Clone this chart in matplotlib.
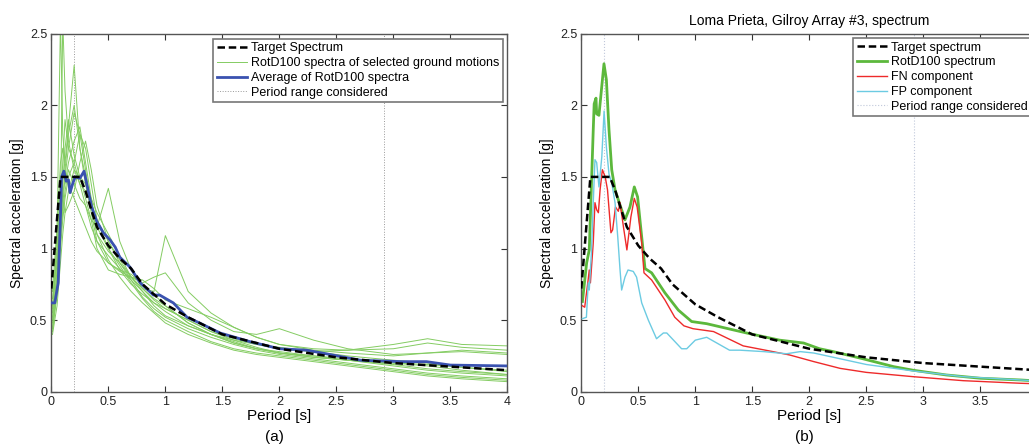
import numpy as np
import matplotlib.pyplot as plt

plt.rcParams['font.family'] = ['Liberation Sans', 'DejaVu Sans']

# target spectrum (same in both panels)
t_target = [0.0, 0.08, 0.25, 0.30, 0.35, 0.40, 0.50, 0.60, 0.70, 0.80, 1.0, 1.2, 1.5, 2.0, 2.5, 3.0, 3.5, 4.0]
sa_target = [0.72, 1.50, 1.50, 1.40, 1.27, 1.15, 1.02, 0.93, 0.86, 0.75, 0.61, 0.52, 0.40, 0.30, 0.24, 0.20, 0.175, 0.15]

# (a) RotD100 spectra of the selected ground motions
t_rec = [0.01, 0.05, 0.08, 0.10, 0.12, 0.15, 0.20, 0.25, 0.30, 0.35, 0.40, 0.50, 0.60, 0.70,
         0.80, 0.90, 1.00, 1.20, 1.40, 1.60, 1.80, 2.00, 2.30, 2.60, 3.00, 3.30, 3.60, 4.00]
rec01 = [0.42, 0.70, 1.20, 2.60, 2.10, 1.75, 1.55, 1.45, 1.30, 1.15, 1.05, 0.95, 0.86, 0.78, 0.70, 0.62, 0.56, 0.46, 0.40, 0.36, 0.33, 0.30, 0.28, 0.29, 0.33, 0.37, 0.33, 0.32]
rec02 = [0.55, 1.10, 2.60, 1.80, 1.60, 1.85, 2.28, 1.70, 1.50, 1.30, 1.10, 0.98, 0.90, 0.80, 0.72, 0.64, 0.58, 0.50, 0.42, 0.37, 0.33, 0.31, 0.28, 0.25, 0.22, 0.20, 0.17, 0.14]
rec03 = [0.48, 0.75, 1.05, 1.30, 1.50, 1.70, 1.95, 1.80, 1.70, 1.45, 1.20, 1.00, 0.85, 0.75, 0.68, 0.62, 0.58, 0.50, 0.42, 0.36, 0.31, 0.27, 0.24, 0.22, 0.18, 0.15, 0.13, 0.11]
rec04 = [0.60, 0.95, 1.40, 1.55, 1.45, 1.60, 1.75, 1.85, 1.60, 1.35, 1.15, 1.42, 1.05, 0.85, 0.72, 0.65, 0.60, 0.48, 0.40, 0.34, 0.30, 0.27, 0.25, 0.23, 0.20, 0.18, 0.15, 0.12]
rec05 = [0.40, 0.60, 0.90, 1.10, 1.25, 1.40, 1.55, 1.50, 1.45, 1.35, 1.25, 1.10, 0.95, 0.80, 0.72, 0.70, 1.09, 0.70, 0.55, 0.45, 0.38, 0.33, 0.30, 0.29, 0.30, 0.34, 0.31, 0.29]
rec06 = [0.52, 0.80, 1.25, 1.45, 1.70, 1.90, 1.65, 1.50, 1.35, 1.20, 1.00, 0.85, 0.82, 0.80, 0.76, 0.80, 0.83, 0.62, 0.50, 0.42, 0.40, 0.44, 0.36, 0.30, 0.26, 0.27, 0.29, 0.27]
rec07 = [0.65, 1.00, 1.50, 1.35, 1.25, 1.30, 1.40, 1.60, 1.75, 1.55, 1.30, 1.05, 0.90, 0.78, 0.66, 0.58, 0.52, 0.44, 0.38, 0.33, 0.29, 0.26, 0.23, 0.20, 0.16, 0.13, 0.11, 0.09]
rec08 = [0.45, 0.72, 1.10, 1.25, 1.40, 1.55, 1.45, 1.35, 1.30, 1.20, 1.15, 1.00, 0.88, 0.76, 0.65, 0.56, 0.50, 0.42, 0.35, 0.30, 0.27, 0.25, 0.22, 0.19, 0.15, 0.12, 0.10, 0.08]
rec09 = [0.70, 1.15, 1.60, 1.70, 1.55, 1.45, 1.35, 1.25, 1.15, 1.05, 0.98, 0.90, 0.84, 0.80, 0.78, 0.72, 0.64, 0.58, 0.52, 0.45, 0.38, 0.33, 0.29, 0.27, 0.25, 0.27, 0.28, 0.26]
rec10 = [0.50, 0.85, 1.30, 1.60, 1.90, 1.70, 1.60, 1.80, 1.55, 1.30, 1.10, 0.92, 0.80, 0.70, 0.62, 0.55, 0.48, 0.40, 0.34, 0.29, 0.26, 0.24, 0.21, 0.18, 0.14, 0.11, 0.09, 0.07]
rec11 = [0.58, 0.90, 1.20, 1.35, 1.55, 1.80, 2.00, 1.70, 1.45, 1.25, 1.05, 0.90, 0.85, 0.82, 0.75, 0.68, 0.60, 0.48, 0.40, 0.35, 0.30, 0.28, 0.25, 0.22, 0.19, 0.16, 0.14, 0.12]
rec12 = [0.44, 0.68, 1.00, 1.20, 1.35, 1.50, 1.60, 1.45, 1.40, 1.30, 1.20, 1.05, 0.92, 0.80, 0.70, 0.60, 0.53, 0.46, 0.40, 0.34, 0.30, 0.27, 0.24, 0.22, 0.20, 0.19, 0.17, 0.15]
records = [rec01, rec02, rec03, rec04, rec05, rec06, rec07, rec08, rec09, rec10, rec11, rec12]

# (a) average of the RotD100 spectra
t_avg = [0.01, 0.03, 0.06, 0.08, 0.09, 0.11, 0.13, 0.15, 0.164, 0.19, 0.21, 0.25, 0.287, 0.316, 0.354,
         0.398, 0.456, 0.515, 0.56, 0.60, 0.69, 0.78, 0.895, 0.95, 1.07, 1.19, 1.30, 1.48, 1.74,
         2.0, 2.24, 2.47, 2.71, 3.06, 3.29, 3.5, 4.0]
sa_avg = [0.62, 0.62, 0.76, 1.22, 1.50, 1.54, 1.47, 1.48, 1.39, 1.46, 1.50, 1.49, 1.54, 1.43, 1.29,
          1.19, 1.11, 1.06, 1.01, 0.94, 0.87, 0.76, 0.675, 0.675, 0.62, 0.52, 0.48, 0.41, 0.35,
          0.30, 0.29, 0.256, 0.22, 0.21, 0.21, 0.186, 0.18]

# (b) Loma Prieta, Gilroy Array #3
t_rotd = [0.01, 0.047, 0.07, 0.105, 0.113, 0.129, 0.135, 0.155, 0.199, 0.22, 0.243, 0.267, 0.296, 0.325,
          0.383, 0.427, 0.465, 0.494, 0.53, 0.559, 0.617, 0.734, 0.851, 0.968, 1.10, 1.45, 1.74, 1.95,
          2.09, 2.21, 2.47, 2.74, 2.91, 3.2, 3.5, 3.85, 4.0]
sa_rotd = [0.63, 0.90, 0.99, 1.83, 2.01, 2.05, 1.94, 1.93, 2.29, 2.18, 1.83, 1.55, 1.41, 1.34,
           1.20, 1.29, 1.43, 1.36, 1.08, 0.86, 0.83, 0.69, 0.57, 0.49, 0.475, 0.41, 0.36, 0.34,
           0.30, 0.28, 0.23, 0.175, 0.15, 0.117, 0.094, 0.082, 0.075]
t_fn = [0.01, 0.03, 0.06, 0.07, 0.08, 0.105, 0.12, 0.135, 0.15, 0.165, 0.185, 0.21, 0.23, 0.26, 0.275,
        0.30, 0.325, 0.34, 0.37, 0.40, 0.435, 0.465, 0.49, 0.53, 0.55, 0.617, 0.734, 0.82, 0.90,
        0.98, 1.16, 1.42, 1.68, 1.83, 2.04, 2.27, 2.50, 2.91, 3.35, 3.85, 4.0]
sa_fn = [0.60, 0.59, 0.78, 0.85, 0.76, 1.04, 1.32, 1.27, 1.25, 1.41, 1.55, 1.50, 1.41, 1.11, 1.13,
         1.29, 1.26, 1.32, 1.15, 0.99, 1.22, 1.35, 1.29, 1.04, 0.83, 0.78, 0.64, 0.52, 0.46,
         0.44, 0.42, 0.32, 0.28, 0.256, 0.21, 0.163, 0.135, 0.105, 0.077, 0.059, 0.055]
t_fp = [0.01, 0.045, 0.061, 0.07, 0.09, 0.105, 0.12, 0.135, 0.155, 0.18, 0.20, 0.22, 0.243, 0.267,
        0.296, 0.32, 0.34, 0.354, 0.383, 0.41, 0.456, 0.485, 0.53, 0.588, 0.66, 0.72, 0.75, 0.88,
        0.925, 1.0, 1.10, 1.30, 1.39, 1.60, 1.80, 1.92, 2.04, 2.27, 2.50, 2.91, 3.35, 3.85, 4.0]
sa_fp = [0.51, 0.52, 0.76, 0.71, 0.99, 1.32, 1.62, 1.60, 1.43, 1.64, 1.96, 1.71, 1.52, 1.46,
         1.32, 1.08, 0.85, 0.71, 0.80, 0.85, 0.84, 0.80, 0.62, 0.50, 0.37, 0.41, 0.41, 0.30,
         0.30, 0.36, 0.38, 0.29, 0.29, 0.28, 0.265, 0.28, 0.27, 0.23, 0.19, 0.145, 0.105, 0.082, 0.075]

period_range = [0.2, 2.92]

fig = plt.figure(figsize=(10.29, 4.47), dpi=100)
ax1 = fig.add_axes([0.0499, 0.1237, 0.4432, 0.8009])
ax2 = fig.add_axes([0.5649, 0.1237, 0.4432, 0.8009])

leg_kw = dict(fontsize=9, handlelength=2.4, handletextpad=0.3, labelspacing=0.22, borderpad=0.3,
              fancybox=False, framealpha=1, edgecolor='#777777', loc='upper left')

# panel (a)
for i, rec in enumerate(records):
    ax1.plot(t_rec, rec, color='#84cc62', linewidth=0.7,
             label='RotD100 spectra of selected ground motions' if i == 0 else None, zorder=2)
ax1.plot(t_target, sa_target, 'k--', linewidth=1.8, dashes=(3, 1.5), label='Target Spectrum', zorder=4)
ax1.plot(t_avg, sa_avg, color='#3a52b0', linewidth=2.0, label='Average of RotD100 spectra', zorder=3)
for p in period_range:
    ax1.axvline(p, color='#999999', linestyle=':', linewidth=0.7,
                label='Period range considered' if p == period_range[0] else None, zorder=1)
h, l = ax1.get_legend_handles_labels()
order = [l.index('Target Spectrum'), l.index('RotD100 spectra of selected ground motions'),
         l.index('Average of RotD100 spectra'), l.index('Period range considered')]
leg1 = ax1.legend([h[i] for i in order], [l[i] for i in order],
                  bbox_to_anchor=(0.355, 0.986), borderaxespad=0, **leg_kw)
leg1.get_frame().set_linewidth(1.2)

# panel (b)
ax2.plot(t_target, sa_target, 'k--', linewidth=1.8, dashes=(3, 1.5), label='Target spectrum', zorder=5)
ax2.plot(t_rotd, sa_rotd, color='#5cb83c', linewidth=2.0, label='RotD100 spectrum', zorder=2)
ax2.plot(t_fn, sa_fn, color='#ee2a2a', linewidth=1.0, label='FN component', zorder=3)
ax2.plot(t_fp, sa_fp, color='#6ccbe2', linewidth=1.0, label='FP component', zorder=4)
for p in period_range:
    ax2.axvline(p, color='#c0c8da', linestyle=':', linewidth=0.8,
                label='Period range considered' if p == period_range[0] else None, zorder=1)
leg2 = ax2.legend(bbox_to_anchor=(0.596, 0.988), borderaxespad=0, **leg_kw)
leg2.get_frame().set_linewidth(1.2)
ax2.set_title('Loma Prieta, Gilroy Array #3, spectrum', fontsize=10, pad=6)

for ax in (ax1, ax2):
    ax.set_xlim(0, 4)
    ax.set_ylim(0, 2.5)
    ax.set_xticks(np.arange(0, 4.01, 0.5))
    ax.set_yticks(np.arange(0, 2.51, 0.5))
    ax.set_yticklabels(['0', '0.5', '1', '1.5', '2', '2.5'])
    ax.tick_params(direction='in', top=True, right=True, labelsize=9, length=4, pad=3,
                   color='#333333', labelcolor='#222222')
    for s in ax.spines.values():
        s.set_color('#555555')
        s.set_linewidth(1.0)
    ax.set_xlabel('Period [s]', fontsize=11, labelpad=1)
    ax.set_ylabel('Spectral acceleration [g]', fontsize=10, labelpad=4)

ax1.set_xticklabels(['0', '0.5', '1', '1.5', '2', '2.5', '3', '3.5', '4'])
# last tick of (b) falls outside the figure edge, so leave it unlabelled
ax2.set_xticklabels(['0', '0.5', '1', '1.5', '2', '2.5', '3', '3.5', ''])

fig.text(0.267, 0.022, '(a)', ha='center', va='center', fontsize=11)
fig.text(0.782, 0.022, '(b)', ha='center', va='center', fontsize=11)

plt.savefig('out.png', dpi=100)
